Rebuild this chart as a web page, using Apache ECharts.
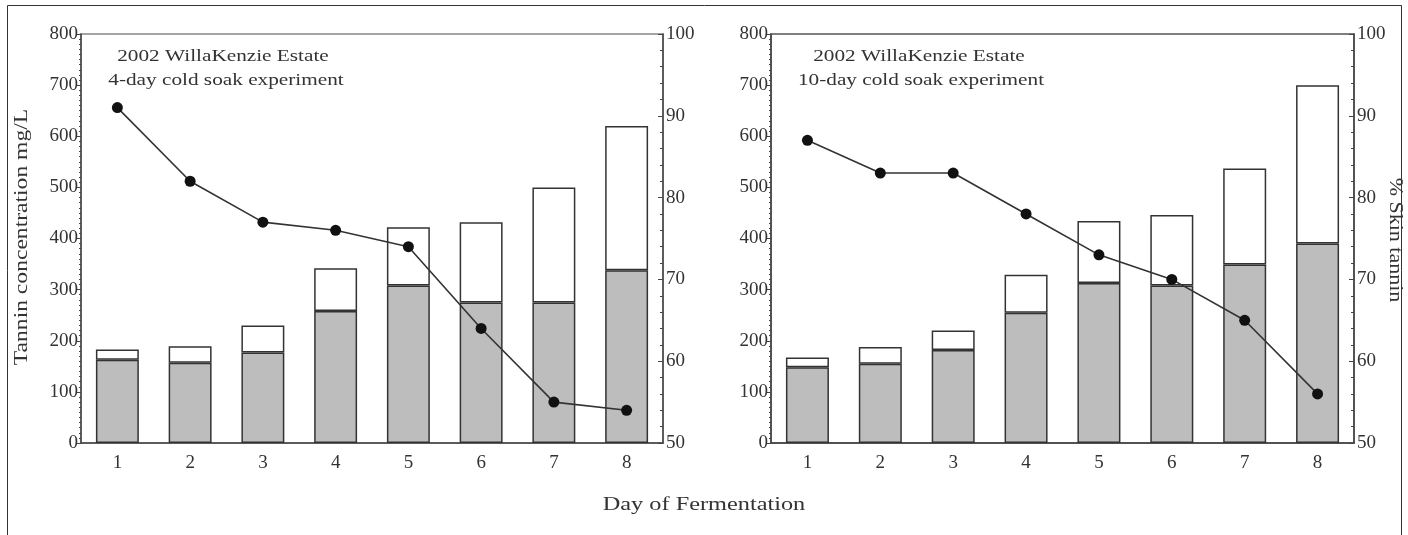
<!DOCTYPE html>
<html>
<head>
<meta charset="utf-8">
<script src="https://cdn.jsdelivr.net/npm/echarts@6/dist/echarts.min.js"></script>
<style>
html,body{margin:0;padding:0;background:#fff;}
#c{width:1408px;height:535px;}
</style>
</head>
<body>
<div id="c"></div>
<script>
// ---- data ----
const days = ['1','2','3','4','5','6','7','8'];
// 4-day cold soak (left panel)
const total4 = [183, 189, 230, 342, 422, 432, 500, 620];
const grey4  = [163, 157, 177, 258, 308, 275, 275, 338];
const skin4  = [91, 82, 77, 76, 74, 64, 55, 54];
// 10-day cold soak (right panel)
const total10 = [167, 188, 220, 329, 434, 446, 537, 700];
const grey10  = [148, 155, 182, 255, 313, 308, 349, 390];
const skin10  = [87, 83, 83, 78, 73, 70, 65, 56];
// labels
const leftAxisName = 'Tannin concentration mg/L';
const rightAxisName = '% Skin tannin';
const xAxisName = 'Day of Fermentation';
const title1 = '2002 WillaKenzie Estate';
const sub4 = '4-day cold soak experiment';
const sub10 = '10-day cold soak experiment';

const FONT = '"Liberation Serif", "DejaVu Serif", serif';
const TXT = '#333';
const AX = '#444';

const chart = echarts.init(document.getElementById('c'), null, {renderer:'canvas'});

function xAxis(grid){
  return {
    type:'category', gridIndex:grid, data:days,
    axisLine:{lineStyle:{color:AX, width:1.5}},
    axisTick:{alignWithLabel:true, length:5, lineStyle:{color:AX}},
    axisLabel:{fontFamily:FONT, fontSize:19, color:TXT, margin:11}
  };
}
function leftY(grid){
  return {
    type:'value', gridIndex:grid, min:0, max:800, interval:100, position:'left',
    axisLine:{show:true, lineStyle:{color:AX, width:1.5}},
    axisTick:{show:true, length:4, lineStyle:{color:AX}},
    minorTick:{show:true, splitNumber:10, length:2, lineStyle:{color:AX}},
    splitLine:{show:false},
    axisLabel:{fontFamily:FONT, fontSize:19, color:TXT, margin:3}
  };
}
function rightY(grid){
  return {
    type:'value', gridIndex:grid, min:50, max:100, interval:10, position:'right',
    axisLine:{show:true, lineStyle:{color:AX, width:1.5}},
    axisTick:{show:true, inside:true, length:5, lineStyle:{color:AX}},
    minorTick:{show:true, splitNumber:5, length:3, lineStyle:{color:AX}},
    splitLine:{show:false},
    axisLabel:{fontFamily:FONT, fontSize:19, color:TXT, margin:3}
  };
}
function diff(t,g){ return t.map((v,i)=>v-g[i]); }

const barBorder = {borderColor:'#333', borderWidth:1.5};

function panelSeries(xi, yi, ryi, total, grey, skin, stackName){
  return [
    {type:'bar', xAxisIndex:xi, yAxisIndex:yi, stack:stackName, data:grey, barWidth:'59%',
     itemStyle:Object.assign({color:'#bdbdbd'}, barBorder), silent:true},
    {type:'bar', xAxisIndex:xi, yAxisIndex:yi, stack:stackName, data:diff(total,grey), barWidth:'59%',
     itemStyle:Object.assign({color:'#ffffff'}, barBorder), silent:true},
    {type:'line', xAxisIndex:xi, yAxisIndex:ryi, data:skin, symbol:'circle', symbolSize:11,
     lineStyle:{color:'#333', width:1.6}, itemStyle:{color:'#111'}, z:5, silent:true}
  ];
}

function txt(text, x, y, size, sx, rot){
  return {type:'text', x:x, y:y, rotation:rot||0, scaleX:sx||1, silent:true,
    style:{text:text, font:size+'px '+FONT, fill:TXT, textAlign:'center', textVerticalAlign:'middle'}};
}

const option = {
  animation:false,
  backgroundColor:'#fff',
  grid:[
    {left:81, right:745, top:34, bottom:92, show:true, borderColor:'#888', borderWidth:1.5, backgroundColor:'transparent'},
    {left:771, right:54, top:34, bottom:92, show:true, borderColor:'#555', borderWidth:1.5, backgroundColor:'transparent'}
  ],
  xAxis:[xAxis(0), xAxis(1)],
  yAxis:[leftY(0), rightY(0), leftY(1), rightY(1)],
  series:[].concat(
    panelSeries(0,0,1,total4,grey4,skin4,'a'),
    panelSeries(1,2,3,total10,grey10,skin10,'b')
  ),
  graphic:[
    {type:'rect', shape:{x:7.5, y:5.5, width:1394, height:540}, style:{fill:'none', stroke:'#333', lineWidth:1}, silent:true, z:-1},
    txt(title1, 223, 57, 17, 1.25),
    txt(sub4, 226, 81, 17, 1.25),
    txt(title1, 919, 57, 17, 1.25),
    txt(sub10, 921, 81, 17, 1.25),
    txt(xAxisName, 704, 505, 18, 1.35),
    txt(leftAxisName, 22, 237, 18, 1.31, Math.PI/2),
    txt(rightAxisName, 1395, 240, 18, 1.22, -Math.PI/2)
  ]
};
chart.setOption(option);
</script>
</body>
</html>
